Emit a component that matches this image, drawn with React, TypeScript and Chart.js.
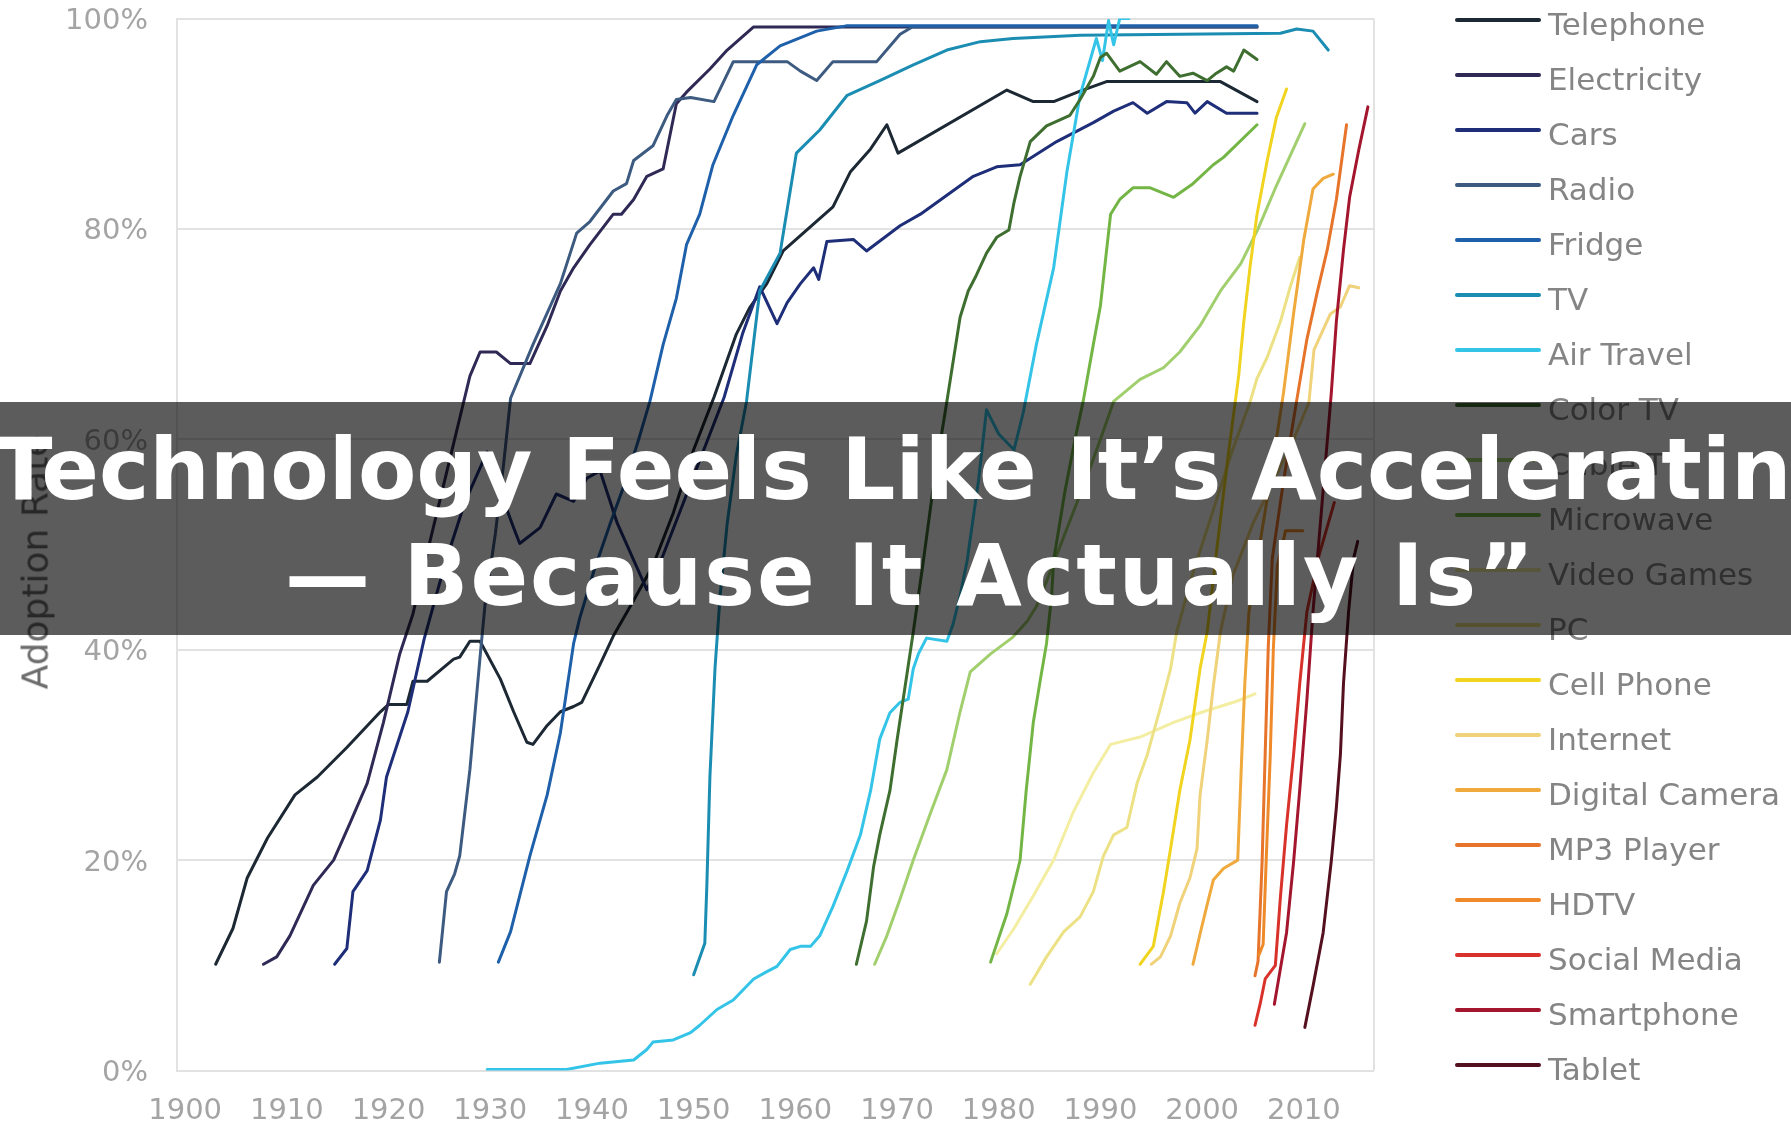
import React, { useEffect, useRef } from "react";
import { Chart, registerables } from "chart.js";

Chart.register(...registerables);

// ---------- data ----------
const X_TICKS = [1900, 1910, 1920, 1930, 1940, 1950, 1960, 1970, 1980, 1990, 2000, 2010];
const Y_TICKS = [0, 20, 40, 60, 80, 100];

const SERIES_NAMES = [
  "Telephone", "Electricity", "Cars", "Radio", "Fridge", "TV", "Air Travel", "Color TV",
  "Cable TV", "Microwave", "Video Games", "PC", "Cell Phone", "Internet", "Digital Camera",
  "MP3 Player", "HDTV", "Social Media", "Smartphone", "Tablet",
];

const TELEPHONE = [
  [1903, 10.1], [1904.7, 13.5], [1906.1, 18.3], [1908.1, 22.1], [1910.8, 26.2], [1913, 27.9],
  [1915.9, 30.7], [1919.2, 34.1], [1920, 34.8], [1921.8, 34.8], [1922.4, 37], [1923.8, 37],
  [1925.4, 38.3], [1926.4, 39.1], [1927, 39.3], [1928, 40.8], [1929, 40.8], [1931, 37.2],
  [1932.3, 34.1], [1933.6, 31.2], [1934.2, 31], [1935.6, 32.8], [1936.9, 34.1], [1938.2, 34.6],
  [1939, 35], [1940.8, 38.6], [1942.1, 41.3], [1944, 44.5], [1946, 48], [1948, 53], [1950, 59],
  [1952, 64], [1954.2, 70], [1955.5, 72.5], [1957.2, 74.8], [1958.8, 77.9], [1963.7, 82.1],
  [1965.4, 85.4], [1967.4, 87.6], [1969, 89.9], [1970.1, 87.2], [1980.8, 93.2], [1983.4, 92.1],
  [1985.4, 92.1], [1988, 93.1], [1990.6, 94], [2001.8, 94], [2005.4, 92.1],
];
const ELECTRICITY = [
  [1907.7, 10.1], [1909, 10.8], [1910.3, 12.8], [1912.6, 17.6], [1914.6, 20], [1916.2, 23.5],
  [1917.9, 27.3], [1919.5, 33.1], [1921.1, 39.6], [1922.4, 43.4], [1924, 50], [1925.5, 56],
  [1927, 62], [1928, 66], [1929, 68.3], [1930.6, 68.3], [1932, 67.2], [1933.9, 67.2],
  [1935.6, 70.8], [1936.9, 74.1], [1938.2, 76.3], [1939.8, 78.5], [1942.1, 81.4], [1942.9, 81.4],
  [1944.1, 82.8], [1945.4, 85], [1947, 85.7], [1948.3, 91.9], [1949.3, 93], [1951.6, 95.2],
  [1953.3, 97], [1955.9, 99.2], [2005.4, 99.2],
];
const CARS = [
  [1914.7, 10.1], [1915.9, 11.6], [1916.5, 17], [1917.9, 19], [1919.2, 23.8], [1919.8, 27.9],
  [1921.9, 34.1], [1923.5, 41], [1925.5, 48], [1927.5, 54], [1929.7, 58.8], [1931, 55],
  [1932.3, 51.6], [1932.9, 50.1], [1934.9, 51.6], [1936.5, 54.8], [1938.2, 54.1], [1939.5, 56.3],
  [1940.8, 57], [1942.5, 52], [1945.4, 45.7], [1947, 49], [1949, 54], [1951, 59], [1953, 64],
  [1954.8, 70], [1956.5, 74.5], [1958.2, 71], [1959.2, 73], [1960.5, 74.8], [1961.8, 76.3],
  [1962.3, 75.2], [1963.1, 78.8], [1965.7, 79], [1967, 77.9], [1970.3, 80.3], [1972.3, 81.4],
  [1974.9, 83.2], [1977.5, 85], [1979.8, 85.9], [1982.1, 86.1], [1985.7, 88.3], [1989.3, 90.1],
  [1991.3, 91.2], [1993.2, 92], [1994.6, 91], [1996.5, 92.1], [1998.5, 92], [1999.3, 91],
  [2000.5, 92.1], [2002.4, 91], [2005.4, 91],
];
const RADIO = [
  [1925, 10.3], [1925.7, 17], [1926.5, 18.7], [1927, 20.4], [1928, 28.6], [1929, 39.3],
  [1929.5, 44.4], [1930.5, 51], [1931.3, 57.5], [1932, 63.9], [1934.2, 69], [1936.9, 74.8],
  [1938.5, 79.6], [1939.8, 80.7], [1942.1, 83.6], [1943.4, 84.3], [1944.1, 86.5], [1946, 87.9],
  [1947.4, 90.8], [1948.3, 92.3], [1949.7, 92.5], [1952, 92.1], [1953.9, 95.9], [1959.2, 95.9],
  [1960.5, 95], [1962.1, 94.1], [1963.7, 95.9], [1968, 95.9], [1970.3, 98.5], [1971.5, 99.2],
  [2005.4, 99.2],
];
const FRIDGE = [
  [1930.8, 10.3], [1932, 13.2], [1933.9, 20.4], [1935.6, 26.2], [1936.9, 32.1], [1938.2, 40.6],
  [1938.8, 43], [1940.2, 47.5], [1941.8, 52], [1943.3, 56], [1944.6, 60], [1945.7, 63.6],
  [1947, 69], [1948.3, 73.4], [1949.3, 78.5], [1950.6, 81.4], [1951.9, 86.1], [1953.9, 90.8],
  [1956.2, 95.6], [1958.5, 97.4], [1962.1, 98.8], [1965, 99.3], [2005.4, 99.3],
];
const TV = [
  [1950, 9.1], [1951.1, 12.1], [1951.3, 17.6], [1951.6, 27.9], [1952.1, 38.2], [1952.6, 45.1],
  [1953.3, 52], [1954.2, 58.5], [1955.2, 63.6], [1956.5, 74.1], [1958.5, 77.7], [1960.1, 87.2],
  [1962.4, 89.4], [1965.1, 92.7], [1968.3, 94.1], [1971.6, 95.6], [1974.9, 97], [1978.2, 97.8],
  [1981.4, 98.1], [1988, 98.4], [2007.7, 98.6], [2009.3, 99], [2010.9, 98.8], [2012.4, 97],
];
const AIR_TRAVEL = [
  [1929.7, 0.1], [1937.5, 0.1], [1940.8, 0.7], [1944.1, 1], [1945.4, 2], [1946, 2.7], [1948, 2.9],
  [1949.7, 3.6], [1950.6, 4.3], [1952.3, 5.8], [1953.9, 6.7], [1955.9, 8.7], [1957.2, 9.4],
  [1958.2, 9.9], [1959.5, 11.5], [1960.5, 11.8], [1961.5, 11.8], [1962.4, 12.8], [1963.7, 15.6],
  [1965.1, 19], [1966.4, 22.4], [1967.4, 26.6], [1968.3, 31.5], [1969.3, 34], [1970.3, 35],
  [1971.1, 35.3], [1971.6, 38.2], [1972.1, 39.6], [1972.9, 41.1], [1974.9, 40.8], [1975.5, 42.4],
  [1976.2, 45.1], [1976.9, 48.5], [1978, 56], [1978.8, 62.8], [1980, 60.5], [1981.5, 59],
  [1982.4, 62.5], [1983.7, 69], [1985.4, 76.3], [1986.7, 85.4], [1988, 92.7], [1989.6, 98.1],
  [1990.2, 96], [1990.8, 99.8], [1991.3, 97.5], [1991.9, 100], [1992.8, 100],
];
const COLOR_TV = [
  [1966, 10.1], [1967, 14.2], [1967.7, 19.4], [1968.3, 22.4], [1969.3, 26.6], [1970, 31.4],
  [1971.6, 41.7], [1972.6, 48.5], [1973.5, 55], [1974.3, 60], [1974.9, 63.6], [1976.2, 71.6],
  [1977, 74.1], [1977.8, 75.6], [1978.8, 77.7], [1979.8, 79.2], [1981, 79.9], [1981.5, 82.5],
  [1982.1, 85], [1983.1, 88.3], [1984.7, 89.8], [1987, 90.8], [1988, 92.3], [1989.3, 94.5],
  [1990, 96.3], [1990.6, 96.7], [1991.9, 95], [1993.9, 95.9], [1995.5, 94.7], [1996.5, 95.9],
  [1997.8, 94.5], [1999.1, 94.8], [2000.5, 94.1], [2001.4, 94.8], [2002.4, 95.4], [2003.1, 95],
  [2004.1, 97], [2005.4, 96.1],
];
const CABLE_TV = [
  [1967.8, 10.1], [1969, 12.8], [1970.3, 16.3], [1971.6, 20], [1973.3, 24.5], [1974.9, 28.6],
  [1976.2, 34.1], [1977.2, 37.9], [1979.2, 39.6], [1981.4, 41.2], [1982.8, 42.7], [1983.7, 44.1],
  [1984.7, 46.5], [1986.5, 51], [1988.5, 56], [1990, 60], [1991.3, 63.6], [1993.9, 65.7],
  [1996.2, 66.8], [1997.8, 68.3], [1999.8, 70.8], [2001.8, 74.1], [2003.8, 76.7], [2005.5, 80],
  [2007.3, 84.1], [2010.1, 90],
];
const MICROWAVE = [
  [1979.2, 10.3], [1980.8, 14.9], [1982.1, 20], [1982.7, 26.6], [1983.4, 33.1], [1984.1, 37.2],
  [1984.7, 40.6], [1985.2, 45.1], [1985.4, 48.5], [1986.5, 55], [1987.5, 60], [1988.3, 63.6],
  [1989.3, 69], [1990, 72.7], [1991, 81.4], [1991.9, 82.8], [1993.2, 83.9], [1994.9, 83.9],
  [1997.2, 83], [1999.1, 84.3], [2001.1, 86.1], [2002.1, 86.8], [2005.4, 89.9],
];
const VIDEO_GAMES = [
  [1979.8, 11.1], [1981.5, 13.5], [1983.4, 16.6], [1985.4, 20], [1987.3, 24.5], [1989.3, 28.3],
  [1991, 31], [1993.9, 31.7], [1997.2, 33.1], [2000.1, 34.1], [2003.4, 35.1], [2005.2, 35.8],
];
const PC = [
  [1983.1, 8.2], [1984.7, 10.8], [1986.4, 13.2], [1988, 14.6], [1989.3, 17], [1990.3, 20.4],
  [1991.3, 22.4], [1992.6, 23.1], [1993.6, 27.3], [1994.6, 30], [1995.9, 34.5], [1996.9, 38.2],
  [1997.5, 41.7], [1999, 47], [2001, 53], [2003, 59], [2004.7, 63.5], [2005.4, 65.8],
  [2006.4, 67.8], [2007.7, 71.2], [2008.7, 74.6], [2009.6, 77.3],
];
const CELL_PHONE = [
  [1993.9, 10.1], [1995.2, 11.8], [1996.2, 17], [1996.9, 21.1], [1997.8, 26.6], [1998.8, 31.4],
  [1999.8, 38.2], [2000.5, 41.7], [2001.5, 50], [2002.5, 58], [2003.6, 66.1], [2004.1, 71.2],
  [2004.7, 76.3], [2005.4, 81.4], [2006.4, 86.5], [2007.3, 90.6], [2008.3, 93.3],
];
const INTERNET = [
  [1995, 10.1], [1995.9, 10.8], [1996.9, 12.8], [1997.8, 15.9], [1998.8, 18.3], [1999.5, 21.1],
  [1999.8, 26.2], [2000.5, 31.4], [2001.1, 36.5], [2001.8, 41.7], [2003, 47], [2005, 52],
  [2007, 56], [2009, 60], [2010.5, 63.5], [2011, 68.5], [2012.6, 71.9], [2013.6, 72.6],
  [2014.5, 74.6], [2015.4, 74.4],
];
const DIGITAL_CAMERA = [
  [1999.1, 10.1], [1999.8, 13], [2000.5, 15.8], [2001.1, 18.1], [2002.1, 19.2], [2003.5, 20],
  [2003.9, 30], [2004.2, 36.8], [2004.6, 43.6], [2005.5, 49], [2006.5, 55], [2007.3, 60],
  [2008, 64.4], [2009, 72], [2010, 79], [2010.9, 83.8], [2011.9, 84.8], [2012.9, 85.2],
];
const MP3_PLAYER = [
  [2005.2, 9], [2005.5, 10.4], [2005.9, 19.9], [2006.2, 30.1], [2006.5, 40.2], [2006.9, 48.7],
  [2008, 56], [2009.3, 63.7], [2010.3, 69.5], [2011.3, 73.9], [2012.3, 78], [2013.2, 82.8],
  [2014.2, 89.9],
];
const HDTV = [
  [2005.6, 11], [2006, 12], [2006.3, 20], [2006.7, 30], [2007, 40], [2007.4, 48], [2008.2, 51.3],
  [2009.9, 51.3],
];
const SOCIAL_MEDIA = [
  [2005.2, 4.3], [2005.7, 6.3], [2006.2, 8.7], [2007.2, 10], [2007.7, 16.5], [2008.3, 23.3],
  [2009, 30.1], [2009.6, 36.8], [2010.3, 43.6], [2011.5, 49], [2013, 54],
];
const SMARTPHONE = [
  [2007.1, 6.3], [2007.7, 9.7], [2008.3, 13.1], [2009, 19.9], [2009.6, 26.7], [2010.3, 35.2],
  [2010.9, 43.6], [2011.8, 54], [2012.7, 64.4], [2013.2, 71.2], [2013.9, 78], [2014.5, 83],
  [2015.4, 87.5], [2016.3, 91.6],
];
const TABLET = [
  [2010.1, 4.1], [2010.9, 8], [2011.9, 13.1], [2012.7, 19.9], [2013.2, 25], [2013.6, 30.1],
  [2013.9, 36.8], [2014.4, 43.6], [2014.9, 48.7], [2015.3, 50.3],
];

const SERIES_DATA = [
  TELEPHONE, ELECTRICITY, CARS, RADIO, FRIDGE, TV, AIR_TRAVEL, COLOR_TV, CABLE_TV, MICROWAVE,
  VIDEO_GAMES, PC, CELL_PHONE, INTERNET, DIGITAL_CAMERA, MP3_PLAYER, HDTV, SOCIAL_MEDIA,
  SMARTPHONE, TABLET,
];

// ---------- styles ----------
const COLORS = [
  "#1c2833", "#2f2a55", "#1f2e78", "#3d5a80", "#1f60aa", "#1b8db2", "#34c4e8", "#3f6f30",
  "#a2cf6e", "#74b646", "#f3eea2", "#ece184", "#f1d420", "#f0d27a", "#efa93c", "#e6742a",
  "#ef8a2a", "#d8322a", "#a3162e", "#55101f",
];

const TITLE_LINE_1 = "\u201CTechnology Feels Like It\u2019s Accelerating";
const TITLE_LINE_2 = "\u2014 Because It Actually Is\u201D";
const Y_TITLE = "Adoption Rate";

const W = 1791;
const H = 1126;
const PLOT_LEFT = 177;
const PLOT_RIGHT = 1374;
const PLOT_TOP = 18.5;
const PLOT_BOTTOM = 1070.5;

const framePlugin = {
  id: "frame",
  beforeDatasetsDraw(chart: any) {
    const { ctx, chartArea } = chart;
    ctx.save();
    ctx.strokeStyle = "#e2e2e2";
    ctx.lineWidth = 2;
    ctx.beginPath();
    ctx.moveTo(chartArea.right, chartArea.top);
    ctx.lineTo(chartArea.right, chartArea.bottom);
    ctx.stroke();
    ctx.restore();
  },
};

export default function App() {
  const canvasRef = useRef<HTMLCanvasElement | null>(null);

  useEffect(() => {
    const canvas = canvasRef.current;
    if (!canvas) return;
    const chart = new Chart(canvas, {
      type: "line",
      data: {
        datasets: SERIES_NAMES.map((name, i) => ({
          label: name,
          data: SERIES_DATA[i].map(([x, y]) => ({ x, y })),
          borderColor: COLORS[i],
          backgroundColor: COLORS[i],
          borderWidth: 3,
          pointRadius: 0,
          pointHoverRadius: 0,
          fill: false,
          tension: 0,
          borderJoinStyle: "round",
          borderCapStyle: "round",
          order: SERIES_NAMES.length - i,
        })),
      },
      options: {
        animation: false,
        responsive: false,
        maintainAspectRatio: false,
        events: [],
        layout: { padding: { top: PLOT_TOP, right: W - PLOT_RIGHT, left: 0, bottom: 0 } },
        plugins: {
          legend: { display: false },
          tooltip: { enabled: false },
          title: { display: false },
        },
        scales: {
          x: {
            type: "linear",
            min: 1899.2,
            max: 2016.9,
            afterBuildTicks: (s: any) => {
              s.ticks = X_TICKS.map((v) => ({ value: v }));
            },
            afterFit: (s: any) => {
              s.height = H - PLOT_BOTTOM;
              s.paddingLeft = 0;
              s.paddingRight = 0;
            },
            grid: { display: false, drawTicks: false },
            border: { display: false },
            ticks: {
              autoSkip: false,
              maxRotation: 0,
              padding: 24,
              color: "#a4a4a4",
              font: { family: "DejaVu Sans", size: 29 },
              callback: (v: any) => String(v),
            },
          },
          y: {
            min: 0,
            max: 100,
            afterBuildTicks: (s: any) => {
              s.ticks = Y_TICKS.map((v) => ({ value: v }));
            },
            afterFit: (s: any) => {
              s.width = PLOT_LEFT;
              s.paddingTop = 0;
              s.paddingBottom = 0;
            },
            grid: { color: "#e2e2e2", lineWidth: 2, drawTicks: false },
            border: { display: true, color: "#e2e2e2", width: 2 },
            ticks: {
              padding: 29,
              labelOffset: 3,
              color: "#a4a4a4",
              font: { family: "DejaVu Sans", size: 29 },
              callback: (v: any) => v + "%",
            },
          },
        },
      } as any,
      plugins: [framePlugin],
    });
    return () => chart.destroy();
  }, []);

  return (
    <div style={{ position: "fixed", left: 0, top: 0, width: W, height: H, background: "#fff", overflow: "hidden" }}>
      <canvas ref={canvasRef} width={W} height={H} style={{ position: "absolute", left: 0, top: 0, width: W, height: H, display: "block" }} />
      <div
        style={{
          position: "absolute",
          left: 35,
          top: 562,
          transform: "translate(-50%, -50%) rotate(-90deg)",
          fontFamily: "DejaVu Sans",
          fontSize: 36,
          color: "#6c6c6c",
          whiteSpace: "nowrap",
        }}
      >
        {Y_TITLE}
      </div>
      {SERIES_NAMES.map((name, i) => (
        <React.Fragment key={name}>
          <div
            style={{
              position: "absolute",
              left: 1455,
              top: 18 + 55 * i,
              width: 86,
              height: 4,
              background: COLORS[i],
              borderRadius: 2,
            }}
          />
          <div
            style={{
              position: "absolute",
              left: 1548,
              top: 9 + 55 * i,
              fontFamily: "DejaVu Sans",
              fontSize: 31,
              lineHeight: "31px",
              color: "#858585",
              whiteSpace: "nowrap",
            }}
          >
            {name}
          </div>
        </React.Fragment>
      ))}
      <div
        style={{
          position: "absolute",
          left: 0,
          top: 402,
          width: W,
          height: 233,
          background: "rgba(0,0,0,0.64)",
          display: "flex",
          flexDirection: "column",
          alignItems: "center",
          justifyContent: "center",
          overflow: "hidden",
        }}
      >
        <div
          style={{
            fontFamily: "DejaVu Sans",
            fontWeight: "bold",
            fontSize: 85,
            lineHeight: "106px",
            color: "#fff",
            whiteSpace: "nowrap",
            textAlign: "center",
            marginTop: 8,
          }}
        >
          <div>{TITLE_LINE_1}</div>
          <div style={{ letterSpacing: 2, paddingLeft: 30 }}>{TITLE_LINE_2}</div>
        </div>
      </div>
    </div>
  );
}
